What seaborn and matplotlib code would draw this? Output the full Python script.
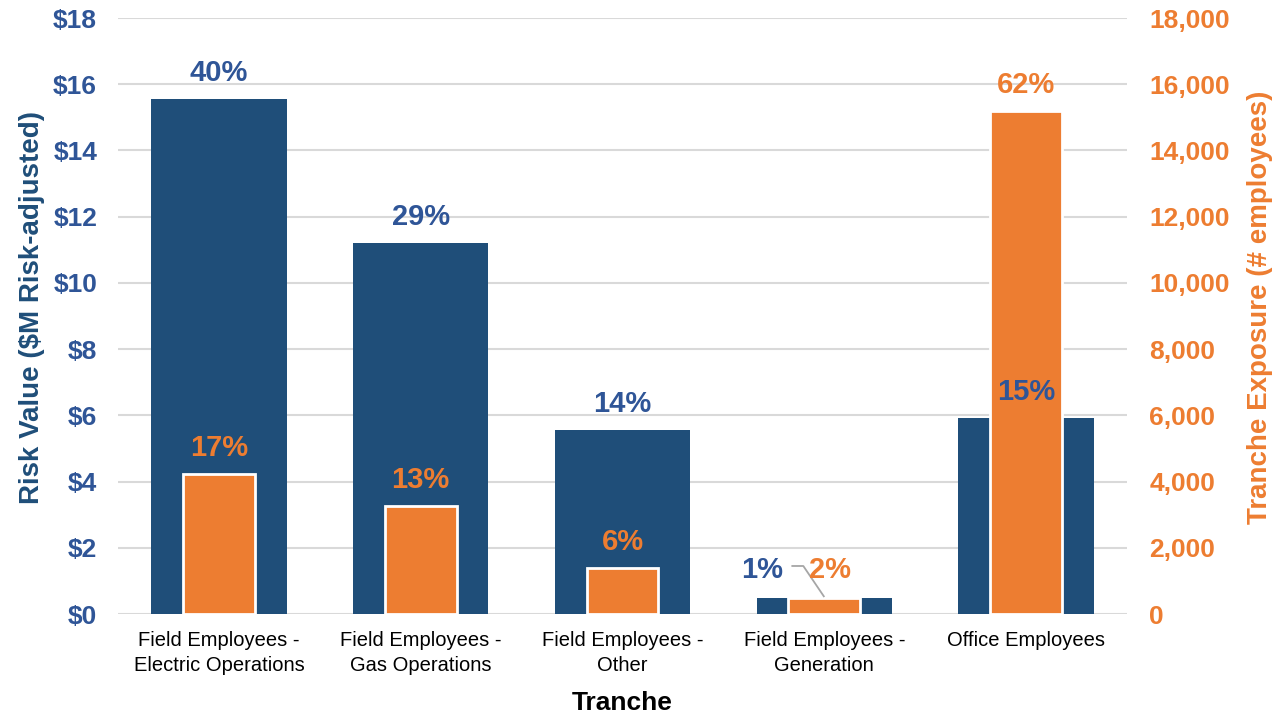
import matplotlib
matplotlib.use("Agg")
import matplotlib.pyplot as plt
import seaborn as sns
import pandas as pd
from matplotlib.ticker import FuncFormatter, MultipleLocator

plt.rcParams['font.family'] = ['Liberation Sans', 'DejaVu Sans']

categories = ["Field Employees -\nElectric Operations",
              "Field Employees -\nGas Operations",
              "Field Employees -\nOther",
              "Field Employees -\nGeneration",
              "Office Employees"]
risk_value = [15.56, 11.21, 5.56, 0.48, 5.92]          # $M risk-adjusted
exposure = [4230, 3263, 1390, 483, 15196]               # # employees
risk_pct = ["40%", "29%", "14%", "1%", "15%"]
exposure_pct = ["17%", "13%", "6%", "2%", "62%"]

BLUE_BAR = "#1F4E79"
BLUE_TXT = "#2F5597"
ORANGE = "#ED7D31"
GRID = "#D9D9D9"
LEADER = "#A6A6A6"

df = pd.DataFrame({"Tranche": categories, "risk": risk_value, "exposure": exposure})

fig = plt.figure(figsize=(12.73, 7.13), dpi=100)
ax = fig.add_axes([118/1273, 1-614/713, (1127-118)/1273, (614-18)/713])
ax2 = ax.twinx()

sns.barplot(data=df, x="Tranche", y="risk", ax=ax, color=BLUE_BAR,
            width=0.67, saturation=1, linewidth=0)
sns.barplot(data=df, x="Tranche", y="exposure", ax=ax2, color=ORANGE,
            width=0.355, saturation=1, edgecolor="white", linewidth=2)

ax.set_ylim(0, 18)
ax2.set_ylim(0, 18000)
ax.set_xlim(-0.5, len(categories) - 0.5)
ax.yaxis.set_major_locator(MultipleLocator(2))
ax2.yaxis.set_major_locator(MultipleLocator(2000))
ax.yaxis.set_major_formatter(FuncFormatter(lambda v, p: f"${v:.0f}"))
ax2.yaxis.set_major_formatter(FuncFormatter(lambda v, p: f"{v:,.0f}"))

ax.grid(axis="y", color=GRID, linewidth=1.5)
ax.grid(axis="x", visible=False)
ax.set_axisbelow(True)
for a in (ax, ax2):
    for s in a.spines.values():
        s.set_visible(False)

ax.tick_params(axis="y", length=0, pad=15, labelsize=19, labelcolor=BLUE_TXT)
for t in ax.get_yticklabels():
    t.set_fontweight("bold")
ax2.tick_params(axis="y", length=0, pad=16, labelsize=19, labelcolor=ORANGE)
for t in ax2.get_yticklabels():
    t.set_fontweight("bold")
ax.tick_params(axis="x", length=0, pad=12, labelsize=14.5, labelcolor="#000000")
ax.set_xticks(range(len(categories)))
ax.set_xticklabels(categories, linespacing=1.45)

ax.set_xlabel("Tranche", fontsize=19, fontweight="bold", labelpad=11)
ax.set_ylabel("Risk Value ($M Risk-adjusted)", fontsize=20, fontweight="bold",
              color=BLUE_BAR, labelpad=6)
ax2.set_ylabel("Tranche Exposure (# employees)", fontsize=20, fontweight="bold",
               color=ORANGE, labelpad=12.5)
ax.yaxis.label.set_y(0.515)
ax2.yaxis.label.set_y(0.515)

LBL = 21
for i, (v, e, rp, ep) in enumerate(zip(risk_value, exposure, risk_pct, exposure_pct)):
    if i == 3:
        ax2.annotate(rp, xy=(i - 0.31, v), xycoords=ax.transData,
                     xytext=(0, 20.5), textcoords="offset points",
                     ha="center", va="center", fontsize=LBL, fontweight="bold",
                     color=BLUE_TXT, zorder=6)
        ax2.annotate(ep, xy=(i - 0.075, e), xytext=(0, 20.5),
                     textcoords="offset points",
                     ha="left", va="center", fontsize=LBL, fontweight="bold",
                     color=ORANGE, zorder=6)
        # leader line from label to its bar
        ax2.plot([i - 0.163, i - 0.104, i], [e + 967, e + 967, e + 30],
                 color=LEADER, lw=1.3, zorder=5, solid_capstyle="butt")
    else:
        ax2.annotate(rp, xy=(i, v), xycoords=ax.transData,
                     xytext=(0, 18.5), textcoords="offset points",
                     ha="center", va="center", fontsize=LBL, fontweight="bold",
                     color=BLUE_TXT, zorder=6)
        ax2.annotate(ep, xy=(i, e), xytext=(0, 18.5), textcoords="offset points",
                     ha="center", va="center", fontsize=LBL, fontweight="bold",
                     color=ORANGE, zorder=6)

fig.savefig("out.png", dpi=100)
